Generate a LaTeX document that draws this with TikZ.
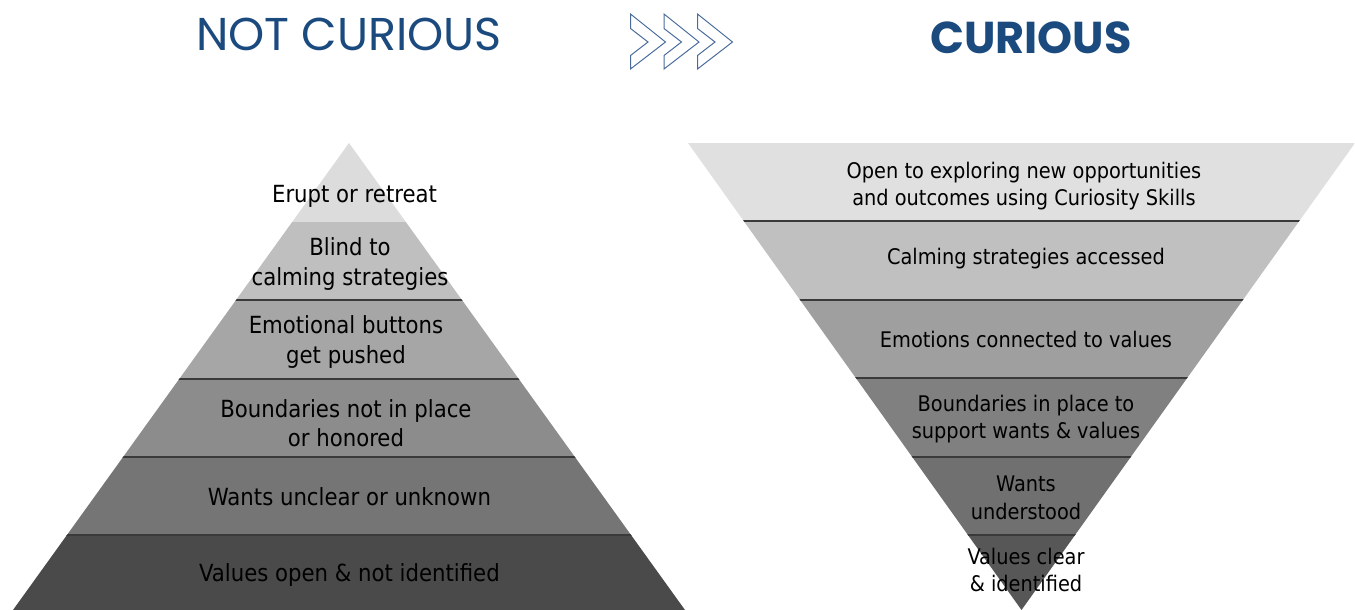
\documentclass[tikz,border=0pt]{standalone}
\usepackage{fontspec}
\setmainfont{DejaVu Sans Condensed}
\newfontfamily\titlefont{Poppins}
\definecolor{navy}{HTML}{1B4A7F}
\definecolor{chev}{HTML}{4A6C9C}
\definecolor{sep}{HTML}{3A3A3A}
\begin{document}
\begin{tikzpicture}[x=1pt,y=-1pt,
  bandtext/.style={font=\fontsize{23.6}{29.5}\selectfont,align=center,text=black,inner sep=0pt},
  rbandtext/.style={font=\fontsize{21.5}{27.5}\selectfont,align=center,text=black,inner sep=0pt},
  sepline/.style={draw=sep,line width=1.3pt},
  chevron/.style={draw=chev,line width=1pt,line join=miter}]
\useasboundingbox (0,0) rectangle (1355,610);

% titles
\node[text=navy,font=\titlefont\fontsize{46}{46}\selectfont,inner sep=0pt] (left title) at (349,34) {NOT CURIOUS};
\node[text=navy,font=\titlefont\bfseries\fontsize{44.6}{44.6}\selectfont,inner sep=0pt] (right title) at (1031,38) {CURIOUS};

% three outlined chevrons between the titles
\foreach \dx in {0,33.5,67}{
  \draw[chevron] (630.5+\dx,14) -- (665.5+\dx,42) -- (630.5+\dx,69) -- (630.5+\dx,55.5)
    -- (648+\dx,42) -- (630.5+\dx,28.5) -- cycle;
}

% left pyramid, banded from light (top) to dark (base)
\begin{scope}
  \clip (349,143) -- (685,610) -- (13,610) -- cycle;
  \fill[fill={rgb,255:red,220;green,220;blue,220}] (0,140) rectangle (700,222);
  \fill[fill={rgb,255:red,191;green,191;blue,191}] (0,222) rectangle (700,300);
  \fill[fill={rgb,255:red,166;green,166;blue,166}] (0,300) rectangle (700,379);
  \fill[fill={rgb,255:red,140;green,140;blue,140}] (0,379) rectangle (700,457);
  \fill[fill={rgb,255:red,117;green,117;blue,117}] (0,457) rectangle (700,535);
  \fill[fill={rgb,255:red,74;green,74;blue,74}] (0,535) rectangle (700,612);
  \foreach \yy in {300,379,457,535}{\draw[sepline] (0,\yy) -- (700,\yy);}
\end{scope}

% right pyramid, inverted
\begin{scope}
  \clip (688,143) -- (1355,143) -- (1021.5,610) -- cycle;
  \fill[fill={rgb,255:red,224;green,224;blue,224}] (680,140) rectangle (1360,221);
  \fill[fill={rgb,255:red,192;green,192;blue,192}] (680,221) rectangle (1360,300);
  \fill[fill={rgb,255:red,159;green,159;blue,159}] (680,300) rectangle (1360,378);
  \fill[fill={rgb,255:red,128;green,128;blue,128}] (680,378) rectangle (1360,457);
  \fill[fill={rgb,255:red,112;green,112;blue,112}] (680,457) rectangle (1360,535);
  \fill[fill={rgb,255:red,87;green,87;blue,87}] (680,535) rectangle (1360,612);
  \foreach \yy in {221,300,378,457,535}{\draw[sepline] (680,\yy) -- (1360,\yy);}
\end{scope}

% left labels
\node[bandtext] (l1) at (354.5,196) {Erupt or retreat};
\node[bandtext] (l2) at (350,264) {Blind to\\calming strategies};
\node[bandtext] (l3) at (346,342) {Emotional buttons\\get pushed};
\node[bandtext] (l4) at (346,423) {Boundaries not in place\\or honored};
\node[bandtext] (l5) at (349.5,497) {Wants unclear or unknown};
\node[bandtext] (l6) at (349.5,575) {Values open \& not identified};

% right labels
\node[rbandtext] (r1) at (1024,186) {Open to exploring new opportunities\\and outcomes using Curiosity Skills};
\node[rbandtext] (r2) at (1026,259) {Calming strategies accessed};
\node[rbandtext] (r3) at (1026,339) {Emotions connected to values};
\node[rbandtext] (r4) at (1026,419) {Boundaries in place to\\support wants \& values};
\node[rbandtext] (r5) at (1026,498) {Wants\\understood};
\node[rbandtext] (r6) at (1026,570) {Values clear\\\& identified};
\end{tikzpicture}
\end{document}
